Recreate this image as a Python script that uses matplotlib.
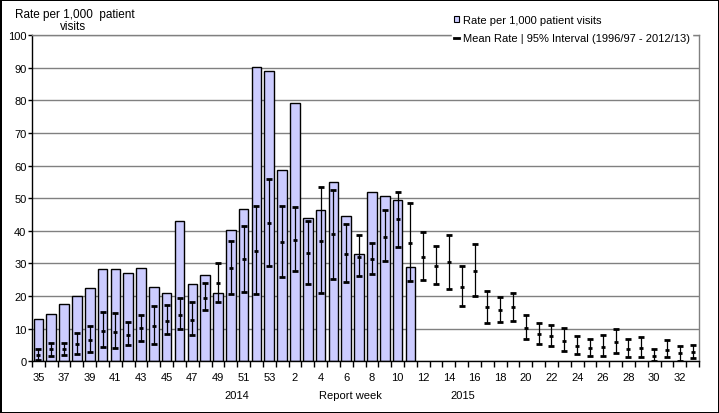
import matplotlib
matplotlib.use("Agg")
import matplotlib.pyplot as plt
from matplotlib.patches import Patch
from matplotlib.lines import Line2D
import numpy as np

# Report weeks: 35-53 of 2014, then 1-33 of 2015
weeks = list(range(35, 54)) + list(range(1, 34))

# Rate per 1,000 patient visits (weeks 35/2014 to 11/2015)
rate = [13.0, 14.4, 17.5, 19.9, 22.4, 28.2, 28.2, 27.0, 28.5, 22.7,
        20.9, 42.9, 23.6, 26.4, 20.9, 40.2, 46.6, 90.3, 89.1,
        58.6, 79.1, 43.9, 46.3, 55.0, 44.5, 32.8, 51.8, 50.6, 49.4, 28.8]

# Mean rate and 95% interval, 1996/97 - 2012/13
mean_rate = [2.0, 3.7, 3.7, 5.4, 6.6, 9.4, 9.1, 8.2, 10.1, 10.9,
             12.5, 14.3, 12.8, 19.5, 24.1, 28.7, 31.2, 33.9, 42.5,
             36.7, 37.3, 33.3, 37.0, 38.9, 33.0, 32.1, 31.5, 38.2, 43.5,
             36.4, 32.1, 29.3, 30.4, 22.9, 27.8, 16.5, 15.8, 16.5, 10.2,
             8.5, 7.9, 6.2, 4.8, 4.2, 4.5, 6.0, 3.9, 4.2, 1.7, 3.6, 2.5, 2.8]
low_95 = [0.5, 1.6, 1.9, 2.1, 2.9, 4.4, 4.0, 5.0, 6.1, 5.3,
          8.3, 9.9, 8.1, 15.7, 18.1, 20.7, 21.2, 20.6, 29.1,
          25.8, 27.6, 23.6, 20.9, 25.2, 24.2, 26.1, 26.7, 30.7, 35.0,
          24.5, 24.8, 23.6, 22.2, 16.9, 19.9, 11.7, 12.0, 12.3, 6.7,
          5.3, 4.6, 3.1, 2.1, 1.6, 1.6, 2.5, 1.2, 1.2, 0.1, 1.2, 0.2, 0.9]
high_95 = [3.7, 5.5, 5.5, 8.6, 10.8, 15.0, 14.7, 12.0, 14.1, 16.9,
           17.2, 19.4, 18.1, 23.9, 30.1, 36.8, 41.4, 47.6, 55.8,
           47.6, 47.2, 42.9, 53.4, 52.5, 42.0, 38.7, 36.2, 46.3, 51.8,
           48.5, 39.6, 35.3, 38.7, 29.1, 35.9, 21.5, 19.8, 20.9, 14.1,
           11.7, 11.2, 10.1, 7.7, 6.7, 8.0, 9.8, 6.7, 7.4, 3.7, 6.4, 4.6, 5.0]

plt.rcParams["font.family"] = ["Liberation Sans", "DejaVu Sans"]
plt.rcParams["font.size"] = 8

W, H = 719, 414
fig = plt.figure(figsize=(W / 100, H / 100), dpi=100)
fig.patch.set_edgecolor("black")
fig.patch.set_linewidth(2)

ax = fig.add_axes([32 / W, 1 - 362.3 / H, (699 - 32) / W, (362.3 - 36) / H])

x = np.arange(len(weeks))
mean_rate = np.array(mean_rate)
yerr = [mean_rate - np.array(low_95), np.array(high_95) - mean_rate]

ax.bar(x[:len(rate)], rate, width=0.75, color="#CCCCFF", edgecolor="black",
       linewidth=1, zorder=2)
ax.errorbar(x, mean_rate, yerr=yerr, fmt="_", color="black", ecolor="black",
            elinewidth=0.9, capsize=2.3, capthick=0.9, markersize=3.5,
            markeredgewidth=2, zorder=3)

ax.set_xlim(-0.5, len(weeks) - 0.5)
ax.set_ylim(0, 100)
ax.set_yticks(range(0, 101, 10))
ax.yaxis.grid(True, color="#808080", linewidth=1)
ax.set_axisbelow(True)

ax.set_xticks(x[::2])
ax.set_xticklabels([str(w) for w in weeks[::2]])
ax.set_xticks(np.arange(-0.5, len(weeks), 1), minor=True)
ax.tick_params(axis="x", which="major", length=0, pad=7.5)
ax.tick_params(axis="x", which="minor", length=4, width=1, direction="out")
ax.tick_params(axis="y", length=3, width=1, pad=1)

for s in ["left", "bottom"]:
    ax.spines[s].set_color("black")
    ax.spines[s].set_linewidth(1)
for s in ["top", "right"]:
    ax.spines[s].set_color("#808080")
    ax.spines[s].set_linewidth(1)

# y-axis title in two separate lines, as in the original
fig.text(75 / W, 1 - 15 / H, "Rate per 1,000  patient", ha="center",
         va="center", fontsize=8.5)
fig.text(73 / W, 1 - 27.5 / H, "visits", ha="center", va="center",
         fontsize=8.5)
fig.text(236.7 / W, 1 - 396 / H, "2014", ha="center", va="center", fontsize=8)
fig.text(350 / W, 1 - 396 / H, "Report week", ha="center", va="center", fontsize=8)
fig.text(463 / W, 1 - 396 / H, "2015", ha="center", va="center", fontsize=8)

handles = [Patch(facecolor="#CCCCFF", edgecolor="black", linewidth=0.8),
           Line2D([], [], color="black", linewidth=2)]
labels = ["Rate per 1,000 patient visits",
          "Mean Rate | 95% Interval (1996/97 - 2012/13)"]
leg = fig.legend(handles, labels, loc="upper left",
                 bbox_to_anchor=(452 / W, 1 - 14 / H), frameon=True,
                 facecolor="white", edgecolor="white", framealpha=1,
                 fancybox=False, handlelength=0.45, handleheight=0.45,
                 handletextpad=0.3, labelspacing=0.7, borderpad=0.2,
                 borderaxespad=0, fontsize=8)

fig.savefig("out.png", dpi=100)
